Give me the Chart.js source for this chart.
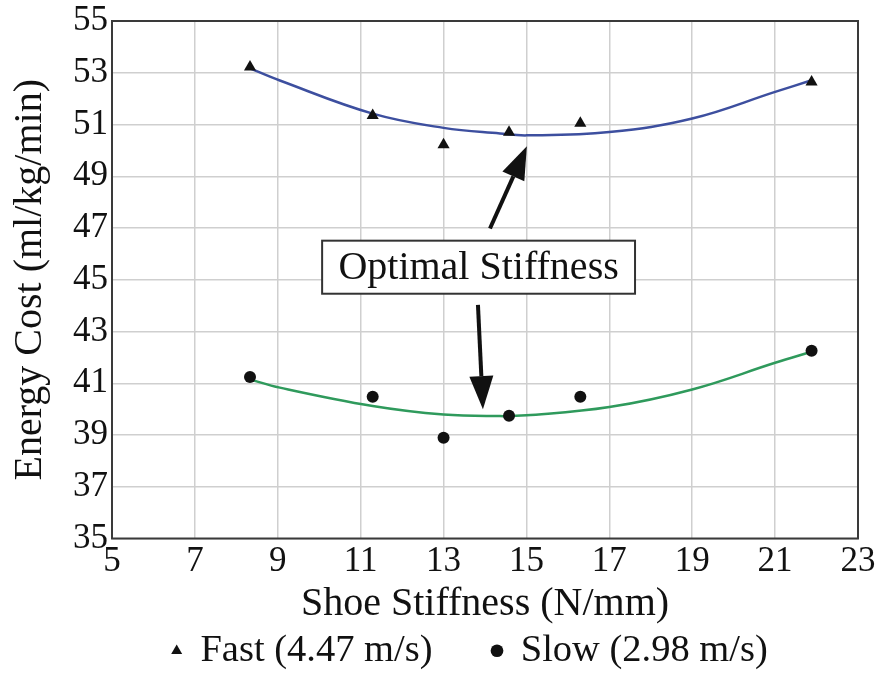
<!DOCTYPE html>
<html>
<head>
<meta charset="utf-8">
<script src="https://cdn.jsdelivr.net/npm/chart.js@4.4.1/dist/chart.umd.min.js"></script>
<style>
  html, body { margin: 0; padding: 0; background: #fff; }
  #wrap { width: 878px; height: 673px; }
</style>
</head>
<body>
<div id="wrap"><canvas id="chart" width="878" height="673"></canvas></div>
<script>
// measured points
const stiffness = [8.33, 11.29, 13.0, 14.58, 16.3, 21.88];
const fastCost = [53.22, 51.35, 50.22, 50.7, 51.05, 52.64];
const slowCost = [41.24, 40.48, 38.89, 39.74, 40.48, 42.26];

// fitted curves
const fitX = [8.33, 9.05, 11.29, 13.0, 14.36, 15.0, 17.0, 19.0, 21.0, 21.88];
const fastFit = [53.17, 52.7, 51.42, 50.87, 50.65, 50.58, 50.71, 51.23, 52.26, 52.71];
const slowFit = [41.15, 40.83, 40.12, 39.79, 39.73, 39.76, 40.08, 40.76, 41.79, 42.22];

const xTicks = [5, 7, 9, 11, 13, 15, 17, 19, 21, 23];
const yTicks = [35, 37, 39, 41, 43, 45, 47, 49, 51, 53, 55];

const labelFast = "Fast (4.47 m/s)";
const labelSlow = "Slow (2.98 m/s)";
const noteText = "Optimal Stiffness";

const serif = "'Liberation Serif', 'Times New Roman', serif";

function pts(xs, ys) {
    return xs.map((x, i) => ({ x: x, y: ys[i] }));
}

// box + arrows for the "Optimal Stiffness" note
const notePlugin = {
    id: "note",
    afterDatasetsDraw(chart) {
        const ctx = chart.ctx;
        const xs = chart.scales.x, ys = chart.scales.y;
        const px = v => xs.getPixelForValue(v);
        const py = v => ys.getPixelForValue(v);

        function arrow(x0, y0, x1, y1) {
            const a = Math.atan2(y1 - y0, x1 - x0);
            const len = 33, half = 12;
            const bx = x1 - len * Math.cos(a), by = y1 - len * Math.sin(a);
            ctx.save();
            ctx.strokeStyle = "#111";
            ctx.fillStyle = "#111";
            ctx.lineWidth = 4;
            ctx.beginPath();
            ctx.moveTo(x0, y0);
            ctx.lineTo(bx, by);
            ctx.stroke();
            ctx.beginPath();
            ctx.moveTo(x1, y1);
            ctx.lineTo(bx + half * Math.sin(a), by - half * Math.cos(a));
            ctx.lineTo(bx - half * Math.sin(a), by + half * Math.cos(a));
            ctx.closePath();
            ctx.fill();
            ctx.restore();
        }

        arrow(px(14.12), py(46.98), px(15.01), py(50.16));
        arrow(px(13.83), py(44.03), px(13.95), py(40.0));

        const l = px(10.07), r = px(17.62), t = py(46.51), b = py(44.46);
        ctx.save();
        ctx.fillStyle = "#fff";
        ctx.fillRect(l, t, r - l, b - t);
        ctx.strokeStyle = "#333";
        ctx.lineWidth = 2;
        ctx.strokeRect(l, t, r - l, b - t);
        ctx.fillStyle = "#111";
        ctx.font = "40px " + serif;
        ctx.textAlign = "center";
        ctx.textBaseline = "middle";
        ctx.fillText(noteText, (l + r) / 2, (t + b) / 2 + 1);
        ctx.restore();
    },
    afterDraw(chart) {
        // frame round the plot
        const a = chart.chartArea, ctx = chart.ctx;
        ctx.save();
        ctx.strokeStyle = "#3a3a3a";
        ctx.lineWidth = 2;
        ctx.strokeRect(a.left, a.top, a.right - a.left, a.bottom - a.top);
        ctx.restore();
    },
    afterLayout(chart) {
        // legend in the reference sits right of centre
        if (chart.legend) {
            chart.legend.left += 41;
            chart.legend.right += 41;
        }
    }
};

new Chart(document.getElementById("chart"), {
    type: "scatter",
    data: {
        datasets: [
            {
                label: labelFast,
                data: pts(stiffness, fastCost),
                pointStyle: "triangle",
                pointRadius: 7,
                backgroundColor: "#111",
                borderColor: "#111",
                borderWidth: 0
            },
            {
                label: labelSlow,
                data: pts(stiffness, slowCost),
                pointStyle: "circle",
                pointRadius: 6,
                backgroundColor: "#111",
                borderColor: "#111",
                borderWidth: 0
            },
            {
                label: "fast fit",
                type: "line",
                data: pts(fitX, fastFit),
                borderColor: "#3d4f9f",
                borderWidth: 2.5,
                pointRadius: 0,
                tension: 0.4,
                fill: false
            },
            {
                label: "slow fit",
                type: "line",
                data: pts(fitX, slowFit),
                borderColor: "#2f9a5c",
                borderWidth: 2.5,
                pointRadius: 0,
                tension: 0.4,
                fill: false
            }
        ]
    },
    options: {
        responsive: false,
        animation: false,
        layout: { padding: { left: 0, right: 20, top: 21, bottom: -7 } },
        plugins: {
            tooltip: { enabled: false },
            legend: {
                display: true,
                position: "bottom",
                labels: {
                    filter: item => item.datasetIndex < 2,
                    usePointStyle: true,
                    boxWidth: 9,
                    boxHeight: 9,
                    color: "#111",
                    padding: 60,
                    font: { family: serif, size: 38.5 }
                }
            }
        },
        scales: {
            x: {
                type: "linear",
                min: 5,
                max: 23,
                afterBuildTicks: s => { s.ticks = xTicks.map(v => ({ value: v })); },
                afterFit: s => { s.height = 33; },
                grid: { color: "#cfcfcf", lineWidth: 1.5, drawTicks: false },
                border: { display: false },
                ticks: {
                    color: "#111",
                    padding: 2,
                    maxRotation: 0,
                    font: { family: serif, size: 35 }
                },
                title: {
                    display: true,
                    text: "Shoe Stiffness (N/mm)",
                    color: "#111",
                    padding: { top: 0, bottom: -57 },
                    font: { family: serif, size: 40 }
                }
            },
            y: {
                type: "linear",
                min: 35,
                max: 55,
                afterBuildTicks: s => { s.ticks = yTicks.map(v => ({ value: v })); },
                afterFit: s => { s.width = 112; s.paddingTop = 0; s.paddingBottom = 0; },
                grid: { color: "#cfcfcf", lineWidth: 1.5, drawTicks: false },
                border: { display: false },
                ticks: {
                    color: "#111",
                    padding: 4,
                    font: { family: serif, size: 35 }
                },
                title: {
                    display: true,
                    text: "Energy Cost (ml/kg/min)",
                    color: "#111",
                    padding: { top: 6, bottom: 0 },
                    font: { family: serif, size: 40 }
                }
            }
        }
    },
    plugins: [notePlugin]
});
</script>
</body>
</html>
